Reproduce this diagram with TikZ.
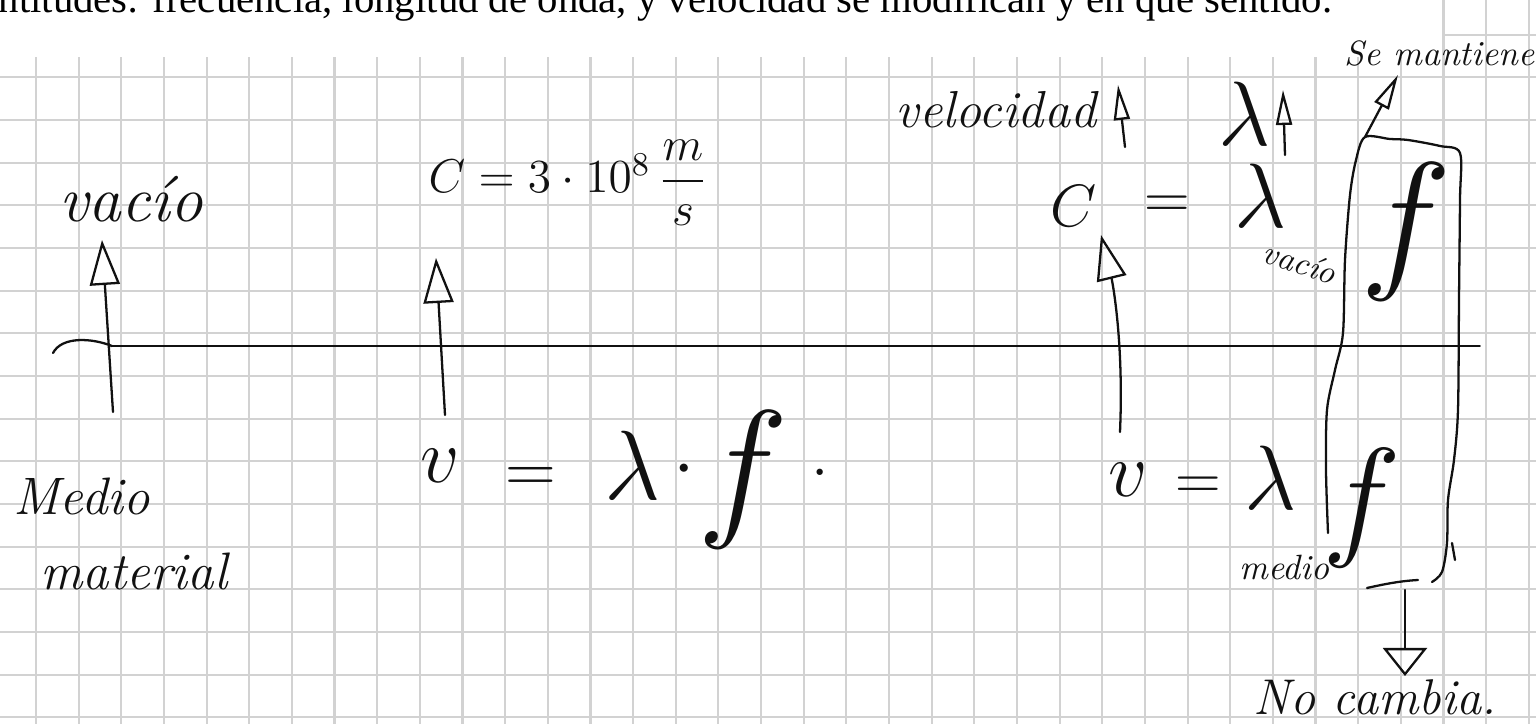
\RequirePackage{fix-cm}
\documentclass[tikz,border=0pt]{standalone}
\usepackage{amsmath}
\usepackage{fontspec}
\usepackage{tikz}
\usetikzlibrary{arrows.meta, positioning}
\newfontfamily\printfont{Liberation Serif}
\definecolor{gridgray}{HTML}{D2D2D2}
\definecolor{ink}{HTML}{111111}
\tikzset{
  grid line/.style={
    draw=gridgray,
    line width=0.6pt
  },
  pen/.style={
    draw=ink,
    line width=0.65pt,
    line cap=round,
    line join=round
  },
  hand arrow/.style={
    pen,
    -{Triangle[open, length=4.5mm, width=3mm]}
  },
  slim arrow/.style={
    pen,
    -{Triangle[open, length=3.5mm, width=1.6mm]}
  },
  wide arrow/.style={
    pen,
    -{Triangle[open, length=2.8mm, width=4.4mm]}
  },
  print/.style={
    inner sep=0pt,
    font=\printfont\fontsize{11.6}{13}\selectfont
  },
  hand/.style={
    text=ink,
    inner sep=0pt,
    font=\itshape\fontsize{#1}{#1}\selectfont
  },
  glyph/.style={
    text=ink,
    inner sep=0pt,
    font=\fontsize{#1}{#1}\selectfont
  }
}

\begin{document}
\begin{tikzpicture}[x=0.1mm, y=-0.1mm]
  \useasboundingbox (0,0) rectangle (1536,724);
  \clip (0,0) rectangle (1536,724);

  % squared paper
  \foreach \k in {0,...,35}
    \draw[grid line] ({36+42.65*\k},0) -- ({36+42.65*\k},724);
  \foreach \k in {0,...,16}
    \draw[grid line] (0,{34.6+42.67*\k}) -- (1536,{34.6+42.67*\k});
  \fill[white] (0,0) rectangle (1442,57);

  \node[print, anchor=base west] (task) at (-2,13) {ntitudes: frecuencia, longitud de onda, y velocidad se modifican y en qué sentido.};

  % boundary between the two media
  \coordinate (axisL) at (112,346);
  \coordinate (axisR) at (1480,346);
  \draw[pen] (53,353) .. controls (62,336) and (92,338) .. (axisL);
  \draw[pen, line width=0.55pt] (axisL) -- (axisR);

  % left
  \node[hand=18.5, anchor=base] (vacio) at (131,222) {vacío};
  \node[hand=15, anchor=base west] (medio) at (13,515) {Medio};
  \node[hand=15, anchor=base west] (material) at (40,590) {material};
  \coordinate (vacfoot) at (113,412);
  \coordinate (vactip) at (102,240);
  \draw[hand arrow] (vacfoot) -- (vactip);

  % middle
  \node[glyph=13.5, anchor=base west] (cvac) at (428,193) {$C=3\cdot10^{8}\,\dfrac{m}{s}$};
  \coordinate (midfoot) at (445,415);
  \coordinate (midtip) at (436,258);
  \draw[hand arrow] (midfoot) -- (midtip);

  \node[glyph=22] (vmid) at (440,466) {$v$};
  \node[glyph=20] (eqmid) at (531,480) {$=$};
  \node[glyph=28] (lammid) at (633,465) {$\lambda$};
  \node[glyph=22] (dotmid) at (684,470) {$\cdot$};
  \node[glyph=44] (fmid) at (743,480) {$f$};
  \node[glyph=22, anchor=base] (endmid) at (820,476) {.};

  % right
  \node[hand=14.8, anchor=base west] (veloc) at (895,128) {velocidad};
  \coordinate (velfoot) at (1125,147);
  \coordinate (veltip) at (1118,85);
  \draw[slim arrow] (velfoot) -- (veltip);
  \node[glyph=26] (lamup) at (1245,114) {$\lambda$};
  \coordinate (lamfoot) at (1285,155);
  \coordinate (lamtip) at (1283,90);
  \draw[slim arrow] (lamfoot) -- (lamtip);

  \node[glyph=17] (cright) at (1074,206) {$C$};
  \node[glyph=18] (eqright) at (1167,207) {$=$};
  \node[glyph=26] (lamright) at (1261,196) {$\lambda$};
  \node[hand=9.5, rotate=-18] (vacio2) at (1300,262) {vacío};
  \coordinate (cfoot) at (1120,432);
  \coordinate (ctip) at (1101,235);
  \draw[hand arrow] (cfoot) .. controls (1124,340) and (1112,280) .. (ctip);

  \node[glyph=22] (vlow) at (1128,480) {$v$};
  \node[glyph=18] (eqlow) at (1198,488) {$=$};
  \node[glyph=26] (lamlow) at (1271,478) {$\lambda$};
  \node[hand=10, anchor=base east] (medio2) at (1330,580) {medio};

  % frequency column
  \node[glyph=44] (fup) at (1406,232) {$f$};
  \node[glyph=38] (flow) at (1362,508) {$f$};
  \draw[pen] plot[smooth] coordinates {(1328,533) (1326,470) (1327,410) (1335,370) (1343,333) (1345,260) (1350,195) (1356,160) (1365,137) (1390,139) (1408,140) (1440,146) (1460,153) (1460,200) (1459,300) (1458,410) (1454,460) (1448,500) (1447,543) (1442,572) (1432,582)};
  \draw[pen] (1367,588) .. controls (1385,584) and (1400,581) .. (1418,580);
  \draw[pen] (1452,543) -- (1455,560);

  \node[hand=10, anchor=base east] (mantiene) at (1535,66) {Se mantiene};
  \coordinate (boxcorner) at (1365,137);
  \coordinate (mantip) at (1398,75);
  \draw[slim arrow] (boxcorner) -- (mantip);

  \node[hand=14.3, anchor=base west] (nocambia) at (1253,715) {No cambia.};
  \coordinate (boxfoot) at (1405,590);
  \coordinate (nctip) at (1405,676);
  \draw[wide arrow] (boxfoot) -- (nctip);
\end{tikzpicture}
\end{document}
